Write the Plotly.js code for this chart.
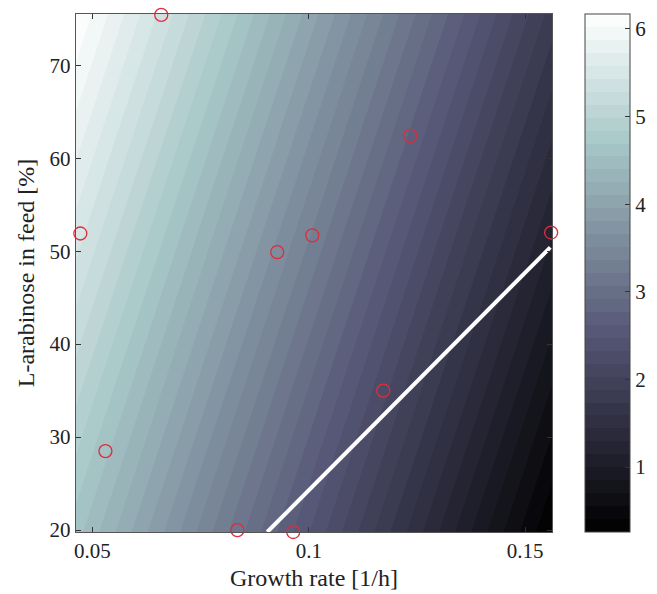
<!DOCTYPE html>
<html>
<head>
<meta charset="utf-8">
<script src="https://cdn.plot.ly/plotly-3.0.1.min.js"></script>
<style>html,body{margin:0;padding:0;background:#fff;}#chart{width:657px;height:594px;}</style>
</head>
<body>
<div id="chart"></div>
<script>
// Surface grid (z values of the shaded field)
const gridGrowth = [0.0462, 0.0737, 0.1012, 0.1287, 0.1562];
const gridArabinose = [19.8, 33.8, 47.7, 61.6, 75.5];
const gridZ = [
  [4.609, 3.523, 2.437, 1.350, 0.264],
  [5.001, 3.915, 2.829, 1.742, 0.656],
  [5.390, 4.304, 3.218, 2.131, 1.045],
  [5.779, 4.693, 3.607, 2.520, 1.434],
  [6.168, 5.082, 3.996, 2.909, 1.823]
];

// Experimental points (red circles)
const pointGrowth = [0.0659, 0.0472, 0.0530, 0.0835, 0.0964, 0.0927, 0.1008, 0.1172, 0.1234, 0.1560];
const pointArabinose = [75.4, 51.9, 28.5, 20.0, 19.8, 49.9, 51.7, 35.0, 62.4, 52.0];

// White boundary line
const lineGrowth = [0.0904, 0.1558];
const lineArabinose = [19.8, 50.4];

// Axis ticks
const xTickVals = [0.05, 0.1, 0.15];
const xTickText = ['0.05', '0.1', '0.15'];
const yTickVals = [20, 30, 40, 50, 60, 70];
const cbTickVals = [1, 2, 3, 4, 5, 6];

const bone = [
  [0, 'rgb(0,0,0)'],
  [0.375, 'rgb(84,84,116)'],
  [0.75, 'rgb(167,199,199)'],
  [1, 'rgb(255,255,255)']
];

const zMin = 0.26, zMax = 6.17;

const traces = [
  {
    type: 'contour',
    x: gridGrowth,
    y: gridArabinose,
    z: gridZ,
    colorscale: bone,
    zmin: zMin,
    zmax: zMax,
    autocontour: false,
    contours: {start: zMin, end: zMax, size: (zMax - zMin) / 40, coloring: 'fill', showlines: false},
    line: {width: 0, smoothing: 0},
    colorbar: {
      x: 1.069, xanchor: 'left', xpad: 0, ypad: 0,
      y: 0.5, yanchor: 'middle', len: 1, lenmode: 'fraction',
      thickness: 45, thicknessmode: 'pixels',
      outlinewidth: 1, outlinecolor: '#444',
      tickvals: cbTickVals, ticks: 'inside', ticklen: 5, tickcolor: '#333',
      tickfont: {family: 'Liberation Serif, Times New Roman, serif', size: 21, color: '#222'}
    },
    hoverinfo: 'skip'
  },
  {
    type: 'scatter',
    mode: 'lines',
    x: lineGrowth,
    y: lineArabinose,
    line: {color: '#ffffff', width: 4},
    showlegend: false,
    hoverinfo: 'skip'
  },
  {
    type: 'scatter',
    mode: 'markers',
    x: pointGrowth,
    y: pointArabinose,
    marker: {symbol: 'circle-open', size: 13, color: 'rgb(222,45,60)', line: {width: 1.3, color: 'rgb(222,45,60)'}},
    cliponaxis: false,
    showlegend: false,
    hoverinfo: 'skip'
  }
];

const font = {family: 'Liberation Serif, Times New Roman, serif', color: '#222'};

const layout = {
  width: 657, height: 594,
  margin: {l: 75.5, r: 105, t: 14, b: 62, pad: 0, autoexpand: false},
  paper_bgcolor: '#ffffff',
  plot_bgcolor: '#ffffff',
  showlegend: false,
  font: font,
  xaxis: {
    range: [0.0462, 0.1562],
    tickvals: xTickVals, ticktext: xTickText,
    ticks: 'inside', ticklen: 5, tickcolor: '#333',
    showline: true, linecolor: '#555', linewidth: 1.2, mirror: 'ticks',
    showgrid: false, zeroline: false, automargin: false,
    tickfont: {family: font.family, size: 21, color: '#222'},
    title: {text: 'Growth rate [1/h]', font: {family: font.family, size: 24, color: '#222'}, standoff: 6}
  },
  yaxis: {
    range: [19.8, 75.5],
    tickvals: yTickVals,
    ticks: 'inside', ticklen: 5, tickcolor: '#333',
    showline: true, linecolor: '#555', linewidth: 1.2, mirror: 'ticks',
    showgrid: false, zeroline: false, automargin: false,
    tickfont: {family: font.family, size: 21, color: '#222'},
    title: {text: 'L-arabinose in feed [%]', font: {family: font.family, size: 24, color: '#222'}, standoff: 8}
  }
};

Plotly.newPlot('chart', traces, layout, {displayModeBar: false, staticPlot: true});
</script>
</body>
</html>
